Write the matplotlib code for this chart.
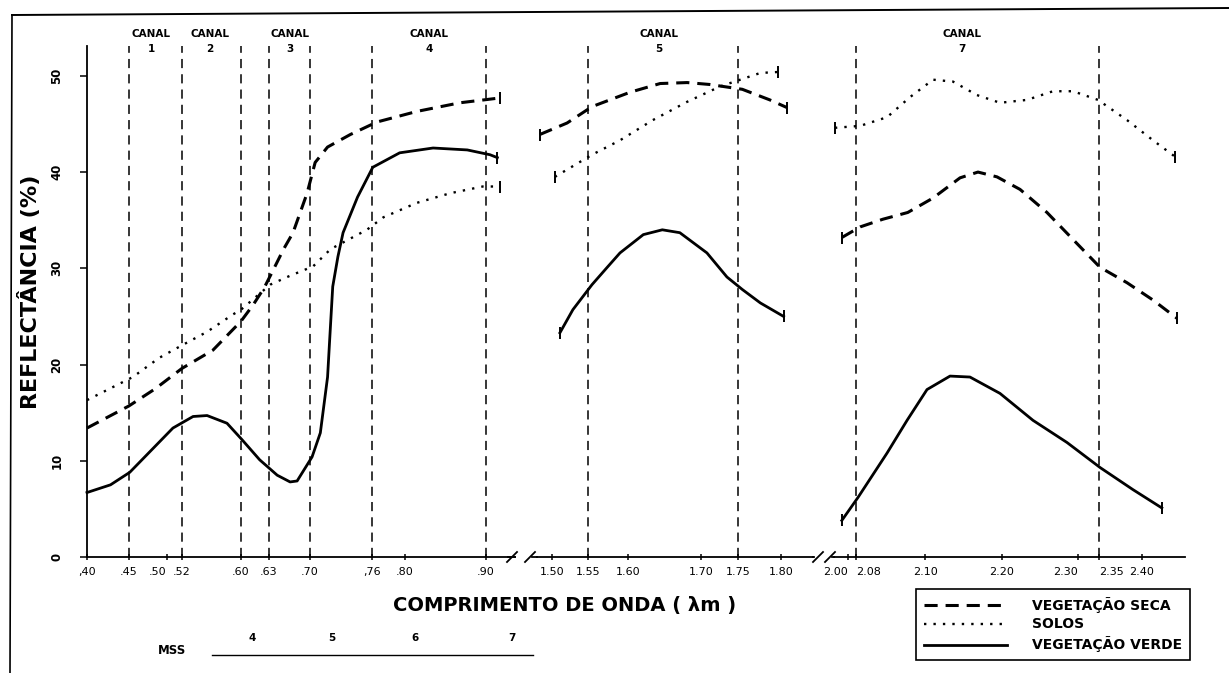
import numpy as np
import matplotlib
matplotlib.use("Agg")
import matplotlib.pyplot as plt
from matplotlib.lines import Line2D
from matplotlib.transforms import blended_transform_factory

# ---------------- data (wavelength in micrometres, reflectance in %) ----------------
# panel 1 : visible / near infrared
seca1_x = [0.40, 0.45, 0.485, 0.52, 0.562, 0.60, 0.613, 0.625, 0.637, 0.655, 0.671,
           0.695, 0.705, 0.717, 0.739, 0.766, 0.815, 0.868, 0.917]
seca1_y = [13.4, 15.7, 17.5, 19.6, 21.5, 24.5, 26.2, 28.0, 29.8, 32.0, 33.7,
           37.8, 41.0, 42.6, 43.9, 45.2, 46.3, 47.2, 47.7]
solos1_x = [0.40, 0.455, 0.49, 0.52, 0.554, 0.589, 0.60, 0.632, 0.665, 0.703, 0.72,
            0.755, 0.774, 0.815, 0.856, 0.896, 0.917]
solos1_y = [16.3, 18.7, 20.7, 22.0, 23.4, 25.2, 25.7, 28.3, 29.2, 30.2, 32.0,
            34.0, 35.3, 36.8, 37.8, 38.5, 38.5]
verde1_x = [0.40, 0.428, 0.451, 0.482, 0.508, 0.535, 0.554, 0.581, 0.601, 0.620, 0.644,
            0.666, 0.678, 0.702, 0.710, 0.717, 0.719, 0.722, 0.727, 0.732, 0.746,
            0.761, 0.794, 0.835, 0.877, 0.905, 0.914]
verde1_y = [6.7, 7.5, 8.8, 11.3, 13.4, 14.6, 14.7, 13.9, 12.2, 10.1, 8.5,
            7.8, 7.9, 10.4, 12.9, 18.7, 22.5, 28.1, 31.2, 33.7, 37.4,
            40.5, 42.0, 42.5, 42.3, 41.8, 41.5]

# panel 2 : around 1.6 um
seca2_x = [1.483, 1.521, 1.555, 1.603, 1.644, 1.681, 1.712, 1.755, 1.787, 1.807]
seca2_y = [43.9, 45.1, 46.8, 48.3, 49.2, 49.3, 49.1, 48.6, 47.5, 46.7]
solos2_x = [1.504, 1.555, 1.59, 1.634, 1.681, 1.726, 1.756, 1.776, 1.797]
solos2_y = [39.5, 41.8, 43.3, 45.4, 47.3, 48.9, 49.7, 50.3, 50.4]
verde2_x = [1.511, 1.529, 1.555, 1.574, 1.59, 1.621, 1.647, 1.671, 1.708, 1.735,
            1.755, 1.776, 1.803]
verde2_y = [23.3, 25.7, 28.3, 30.1, 31.6, 33.5, 34.0, 33.7, 31.6, 29.1,
            27.8, 26.4, 25.0]

# panel 3 : around 2.2 um
seca3_x = [1.992, 2.0812, 2.0878, 2.095, 2.1104, 2.1455, 2.1688, 2.1935, 2.2237,
           2.2592, 2.2934, 2.3512, 2.3826, 2.4143, 2.4455]
seca3_y = [33.2, 34.3, 35.1, 35.8, 37.3, 39.4, 40.0, 39.5, 38.2,
           35.8, 33.0, 30.1, 28.5, 26.7, 24.8]
solos3_x = [1.983, 2.0812, 2.089, 2.0957, 2.1104, 2.1364, 2.1675, 2.1974, 2.2329,
            2.2671, 2.2934, 2.3476, 2.3826, 2.4143, 2.4429]
solos3_y = [44.6, 44.8, 45.7, 47.8, 49.6, 49.4, 48.0, 47.2, 47.5,
            48.4, 48.4, 47.5, 45.4, 43.3, 41.6]
verde3_x = [1.992, 2.0806, 2.089, 2.0948, 2.1026, 2.1325, 2.1584, 2.1974, 2.2408,
            2.2855, 2.3512, 2.3895, 2.4257]
verde3_y = [3.8, 6.2, 10.8, 14.2, 17.4, 18.8, 18.7, 17.0, 14.2,
            11.9, 9.3, 7.0, 5.1]

# channel (band) limits drawn as vertical dashed lines
bands1 = [0.45, 0.52, 0.60, 0.63, 0.70, 0.76, 0.90]
bands2 = [1.55, 1.75]
bands3 = [2.08, 2.35]

ticks1 = [0.40, 0.45, 0.50, 0.52, 0.60, 0.63, 0.70, 0.76, 0.80, 0.90]
labels1 = [",40", ".45", ".50", ".52", ".60", ".63", ".70", ",76", ".80", ".90"]
ticks2 = [1.50, 1.55, 1.60, 1.70, 1.75, 1.80]
labels2 = ["1.50", "1.55", "1.60", "1.70", "1.75", "1.80"]
ticks3 = [2.00, 2.08, 2.10, 2.20, 2.30, 2.35, 2.40]
labels3 = ["2.00", "2.08", "2.10", "2.20", "2.30", "2.35", "2.40"]

yticks = [0, 10, 20, 30, 40, 50]
legend_labels = ["VEGETAÇÃO SECA", "SOLOS", "VEGETAÇÃO VERDE"]
mss_labels = ["4", "5", "6", "7"]

# ---------------- hand-drawn (piecewise) wavelength axis ----------------
W, H = 1229, 673
fig = plt.figure(figsize=(W / 100, H / 100), dpi=100)

def make_scale(kw, kp):
    kw = np.asarray(kw, float)
    kp = np.asarray(kp, float)
    def fwd(x):
        return np.interp(np.asarray(x, float), kw, kp)
    def inv(p):
        return np.interp(np.asarray(p, float), kp, kw)
    return fwd, inv

scales = [
    make_scale([0.30, 0.40, 0.45, 0.52, 0.60, 0.63, 0.70, 0.76, 0.90, 1.00],
               [1, 87, 129, 182, 241, 269, 310, 372, 486, 567]),
    make_scale([1.40, 1.50, 1.55, 1.60, 1.70, 1.75, 1.80, 1.90],
               [480, 552, 588, 628, 701, 738, 781, 867]),
    make_scale([1.90, 2.00, 2.08, 2.10, 2.20, 2.30, 2.35, 2.40, 2.50],
               [771, 848, 856, 925, 1002, 1078, 1099, 1142, 1219]),
]
px_ranges = [(87, 515), (537, 813), (834, 1185)]
Y0, Y1 = 557, 46           # pixel rows of the axes bottom / top
YMAX = 53.1

dash_style = (0, (4.3, 2.6))
dot_style = (0, (1, 3))

axes = []
for (fwd, inv), (l, r) in zip(scales, px_ranges):
    ax = fig.add_axes([l / W, 1 - Y0 / H, (r - l) / W, (Y0 - Y1) / H])
    ax.set_xscale("function", functions=(fwd, inv))
    ax.set_xlim(float(inv(l)), float(inv(r)))
    ax.set_ylim(0, YMAX)
    ax.patch.set_alpha(0)
    for s in ["top", "right", "left"]:
        ax.spines[s].set_visible(False)
    ax.spines["bottom"].set_linewidth(1.3)
    ax.tick_params(axis="x", direction="inout", length=5, width=1.1,
                   labelsize=8, pad=5)
    ax.set_yticks([])
    axes.append(ax)

ax1, ax2, ax3 = axes
ax1.spines["left"].set_visible(True)
ax1.spines["left"].set_linewidth(1.3)
ax1.set_yticks(yticks)
ax1.set_yticklabels([str(v) for v in yticks], rotation=90, va="center",
                    fontsize=8.5, fontweight="bold")
ax1.tick_params(axis="y", direction="out", length=5, width=1.1, pad=12)

for ax, t, lab in [(ax1, ticks1, labels1), (ax2, ticks2, labels2), (ax3, ticks3, labels3)]:
    ax.set_xticks(t)
    ax.set_xticklabels(lab)
    ax.minorticks_off()

# label alignment for the crowded tick labels
for lab in ax1.get_xticklabels():
    if lab.get_text() == ".50":
        lab.set_ha("right")
for lab in ax3.get_xticklabels():
    if lab.get_text() in ("2.00", "2.30"):
        lab.set_ha("right")
    if lab.get_text() in ("2.08", "2.35"):
        lab.set_ha("left")

# vertical channel limits
for ax, bands in [(ax1, bands1), (ax2, bands2), (ax3, bands3)]:
    for b in bands:
        ax.axvline(b, ymin=0, ymax=1, color="black", lw=1.1,
                   linestyle=(0, (6, 4)), zorder=1)

# curves
series = [
    (ax1, seca1_x, seca1_y, solos1_x, solos1_y, verde1_x, verde1_y, False),
    (ax2, seca2_x, seca2_y, solos2_x, solos2_y, verde2_x, verde2_y, True),
    (ax3, seca3_x, seca3_y, solos3_x, solos3_y, verde3_x, verde3_y, True),
]
for ax, sx, sy, ox, oy, vx, vy, both_ends in series:
    for xs, ys, ls, lw in [(sx, sy, dash_style, 2.2), (ox, oy, dot_style, 1.7),
                           (vx, vy, "-", 2.0)]:
        me = [0, len(xs) - 1] if both_ends else [len(xs) - 1]
        ax.plot(xs, ys, color="black", linestyle=ls, lw=lw, clip_on=False,
                marker="|", markevery=me, markersize=8, markeredgewidth=1.4,
                zorder=3, solid_joinstyle="round")

# channel headers
fig_tr = fig.transFigure
headers = [(ax1, 0.479, "1"), (ax1, 0.558, "2"), (ax1, 0.666, "3"), (ax1, 0.83, "4"),
           (ax2, 1.642, "5"), (ax3, 2.148, "7")]
for ax, xpos, num in headers:
    tr = blended_transform_factory(ax.transData, fig_tr)
    ax.text(xpos, 1 - 34 / H, "CANAL", transform=tr, ha="center", va="center",
            fontsize=7.5, fontweight="bold")
    ax.text(xpos, 1 - 49 / H, num, transform=tr, ha="center", va="center",
            fontsize=7.5, fontweight="bold")

# axis titles
fig.text(30 / W, 1 - 292 / H, "REFLECTÂNCIA (%)", rotation=90, ha="center",
         va="center", fontsize=16, fontweight="bold")
fig.text(565 / W, 1 - 606 / H, "COMPRIMENTO DE ONDA ( λm )", ha="center",
         va="center", fontsize=14, fontweight="bold")

# axis breaks
def fline(x0, y0, x1, y1, lw=1.3):
    fig.add_artist(Line2D([x0 / W, x1 / W], [1 - y0 / H, 1 - y1 / H],
                          transform=fig_tr, color="black", lw=lw))

for cx in (512, 530, 818, 830):
    fline(cx - 5, Y0 + 5, cx + 5, Y0 - 5)
fline(515, Y0, 508, Y0)
fline(532, Y0, 537, Y0)
fline(813, Y0, 814, Y0)
fline(832, Y0, 834, Y0)

# scanned page frame
fline(12, 15, 1229, 8, lw=1.4)
fline(12, 15, 10, 673, lw=1.2)

# MSS ruler
fig.text(172 / W, 1 - 650 / H, "MSS", ha="center", va="center", fontsize=8.5,
         fontweight="bold")
fline(212, 655, 533, 655, lw=1.0)
for xpx, t in zip([252, 332, 415, 512], mss_labels):
    fig.text(xpx / W, 1 - 638 / H, t, ha="center", va="center", fontsize=7.5,
             fontweight="bold")

# legend
handles = [Line2D([], [], color="black", linestyle=dash_style, lw=2.2),
           Line2D([], [], color="black", linestyle=dot_style, lw=1.7),
           Line2D([], [], color="black", linestyle="-", lw=2.0)]
leg = fig.legend(handles, legend_labels, loc="upper left",
                 bbox_to_anchor=(916 / W, 1 - 589 / H), frameon=True,
                 fancybox=False, framealpha=1, edgecolor="black",
                 prop=dict(weight="bold", size=10), handlelength=6.0,
                 handletextpad=1.8, borderpad=0.55, labelspacing=0.35,
                 borderaxespad=0)
leg.get_frame().set_linewidth(1.2)

fig.savefig("out.png", dpi=100)
